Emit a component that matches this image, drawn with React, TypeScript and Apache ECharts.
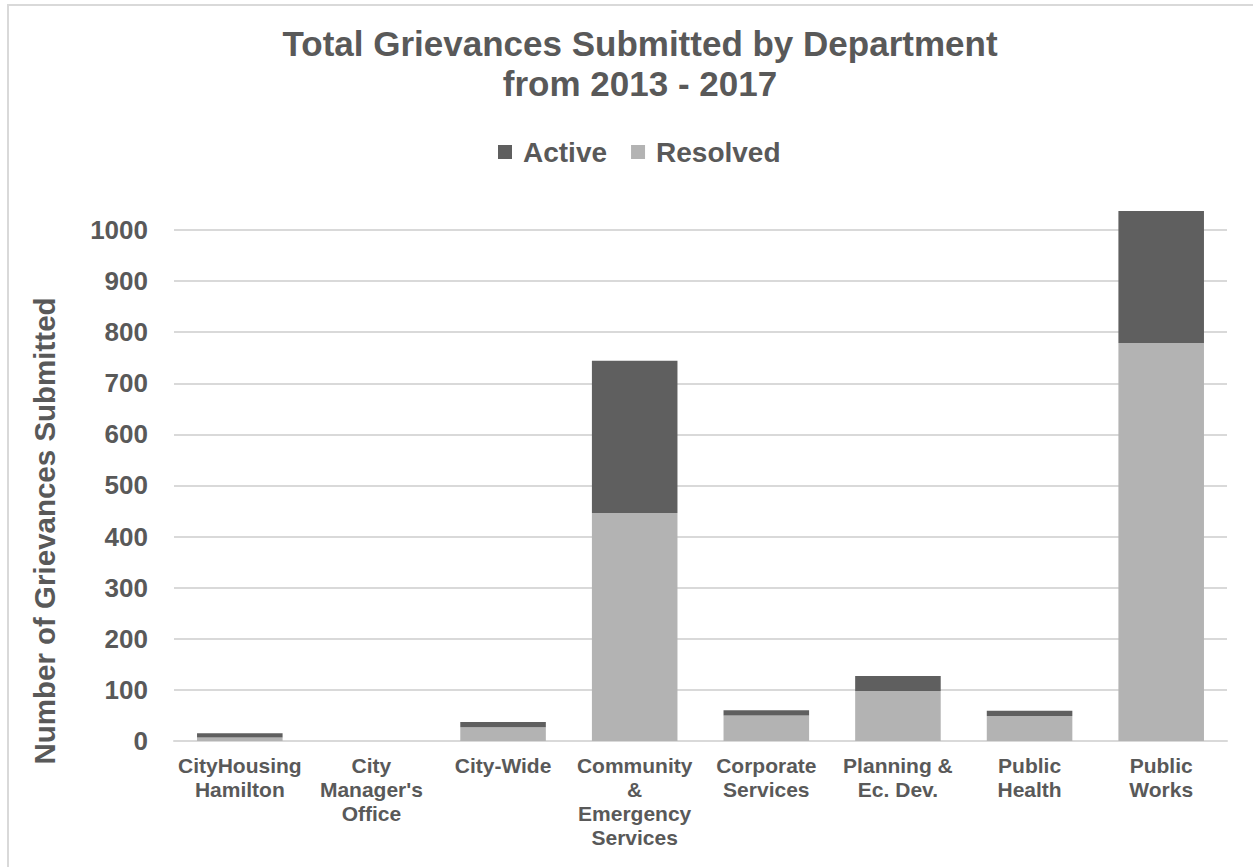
import React, { useEffect, useRef } from "react";
import * as echarts from "echarts";

const categories = [
  "CityHousing\nHamilton",
  "City\nManager's\nOffice",
  "City-Wide",
  "Community\n&\nEmergency\nServices",
  "Corporate\nServices",
  "Planning &\nEc. Dev.",
  "Public\nHealth",
  "Public\nWorks",
];
const resolvedValues = [7, 0, 27, 446, 50, 98, 49, 779];
const activeValues = [8, 0, 10, 298, 10, 29, 10, 258];
const titleLines = ["Total Grievances Submitted by Department", "from 2013 - 2017"];
const yAxisTitle = "Number of Grievances Submitted";

const TXT = "#595959";
const FONT = "'Liberation Sans', Arial, sans-serif";

export default function App() {
  const ref = useRef<HTMLDivElement>(null);
  useEffect(() => {
    if (!ref.current) return;
    const chart = echarts.init(ref.current, null, { renderer: "svg" });
    chart.setOption({
      animation: false,
      backgroundColor: "#ffffff",
      textStyle: { fontFamily: FONT },
      title: {
        text: titleLines.join("\n"),
        left: 635,
        top: 18,
        textAlign: "center",
        textStyle: { fontSize: 35, fontWeight: "bold", color: TXT, lineHeight: 40, fontFamily: FONT },
      },
      legend: {
        left: 493,
        top: 133,
        itemWidth: 14,
        itemHeight: 14,
        itemGap: 24,
        icon: "rect",
        data: ["Active", "Resolved"],
        textStyle: { fontSize: 28, fontWeight: "bold", color: TXT, fontFamily: FONT, padding: [0, 0, 0, 6] },
      },
      graphic: [
        {
          type: "rect",
          shape: { x: 8, y: 5, width: 1400, height: 1000 },
          style: { fill: "none", stroke: "#d9d9d9", lineWidth: 2 },
          silent: true,
        },
        {
          type: "text",
          x: 44,
          y: 531,
          rotation: Math.PI / 2,
          style: {
            text: yAxisTitle,
            fontSize: 29.5,
            fontWeight: "bold",
            fill: TXT,
            fontFamily: FONT,
            textAlign: "center",
            textVerticalAlign: "middle",
          },
        },
      ],
      grid: { left: 174, right: 26, top: 209.5, bottom: 126, containLabel: false },
      xAxis: {
        type: "category",
        data: categories,
        axisLine: { show: true, lineStyle: { color: "#d9d9d9", width: 2 } },
        axisTick: { show: false },
        axisLabel: {
          interval: 0,
          margin: 12,
          fontSize: 21,
          fontWeight: "bold",
          color: TXT,
          lineHeight: 24,
          fontFamily: FONT,
        },
      },
      yAxis: {
        type: "value",
        min: 0,
        max: 1040,
        interval: 100,
        axisLine: { show: false },
        axisTick: { show: false },
        splitLine: { show: true, showMaxLine: false, lineStyle: { color: "#d9d9d9", width: 2 } },
        axisLabel: {
          margin: 26,
          fontSize: 26,
          fontWeight: "bold",
          color: TXT,
          fontFamily: FONT,
          showMaxLabel: false,
          formatter: (v: number) => (v % 100 === 0 ? String(v) : ""),
        },
      },
      series: [
        {
          name: "Resolved",
          type: "bar",
          stack: "total",
          data: resolvedValues,
          barCategoryGap: "35%",
          itemStyle: { color: "#b3b3b3" },
        },
        {
          name: "Active",
          type: "bar",
          stack: "total",
          data: activeValues,
          barCategoryGap: "35%",
          itemStyle: { color: "#5f5f5f" },
        },
      ],
    });
    return () => chart.dispose();
  }, []);
  return (
    <div
      ref={ref}
      style={{ position: "fixed", left: 0, top: 0, width: 1253, height: 867 }}
    />
  );
}
